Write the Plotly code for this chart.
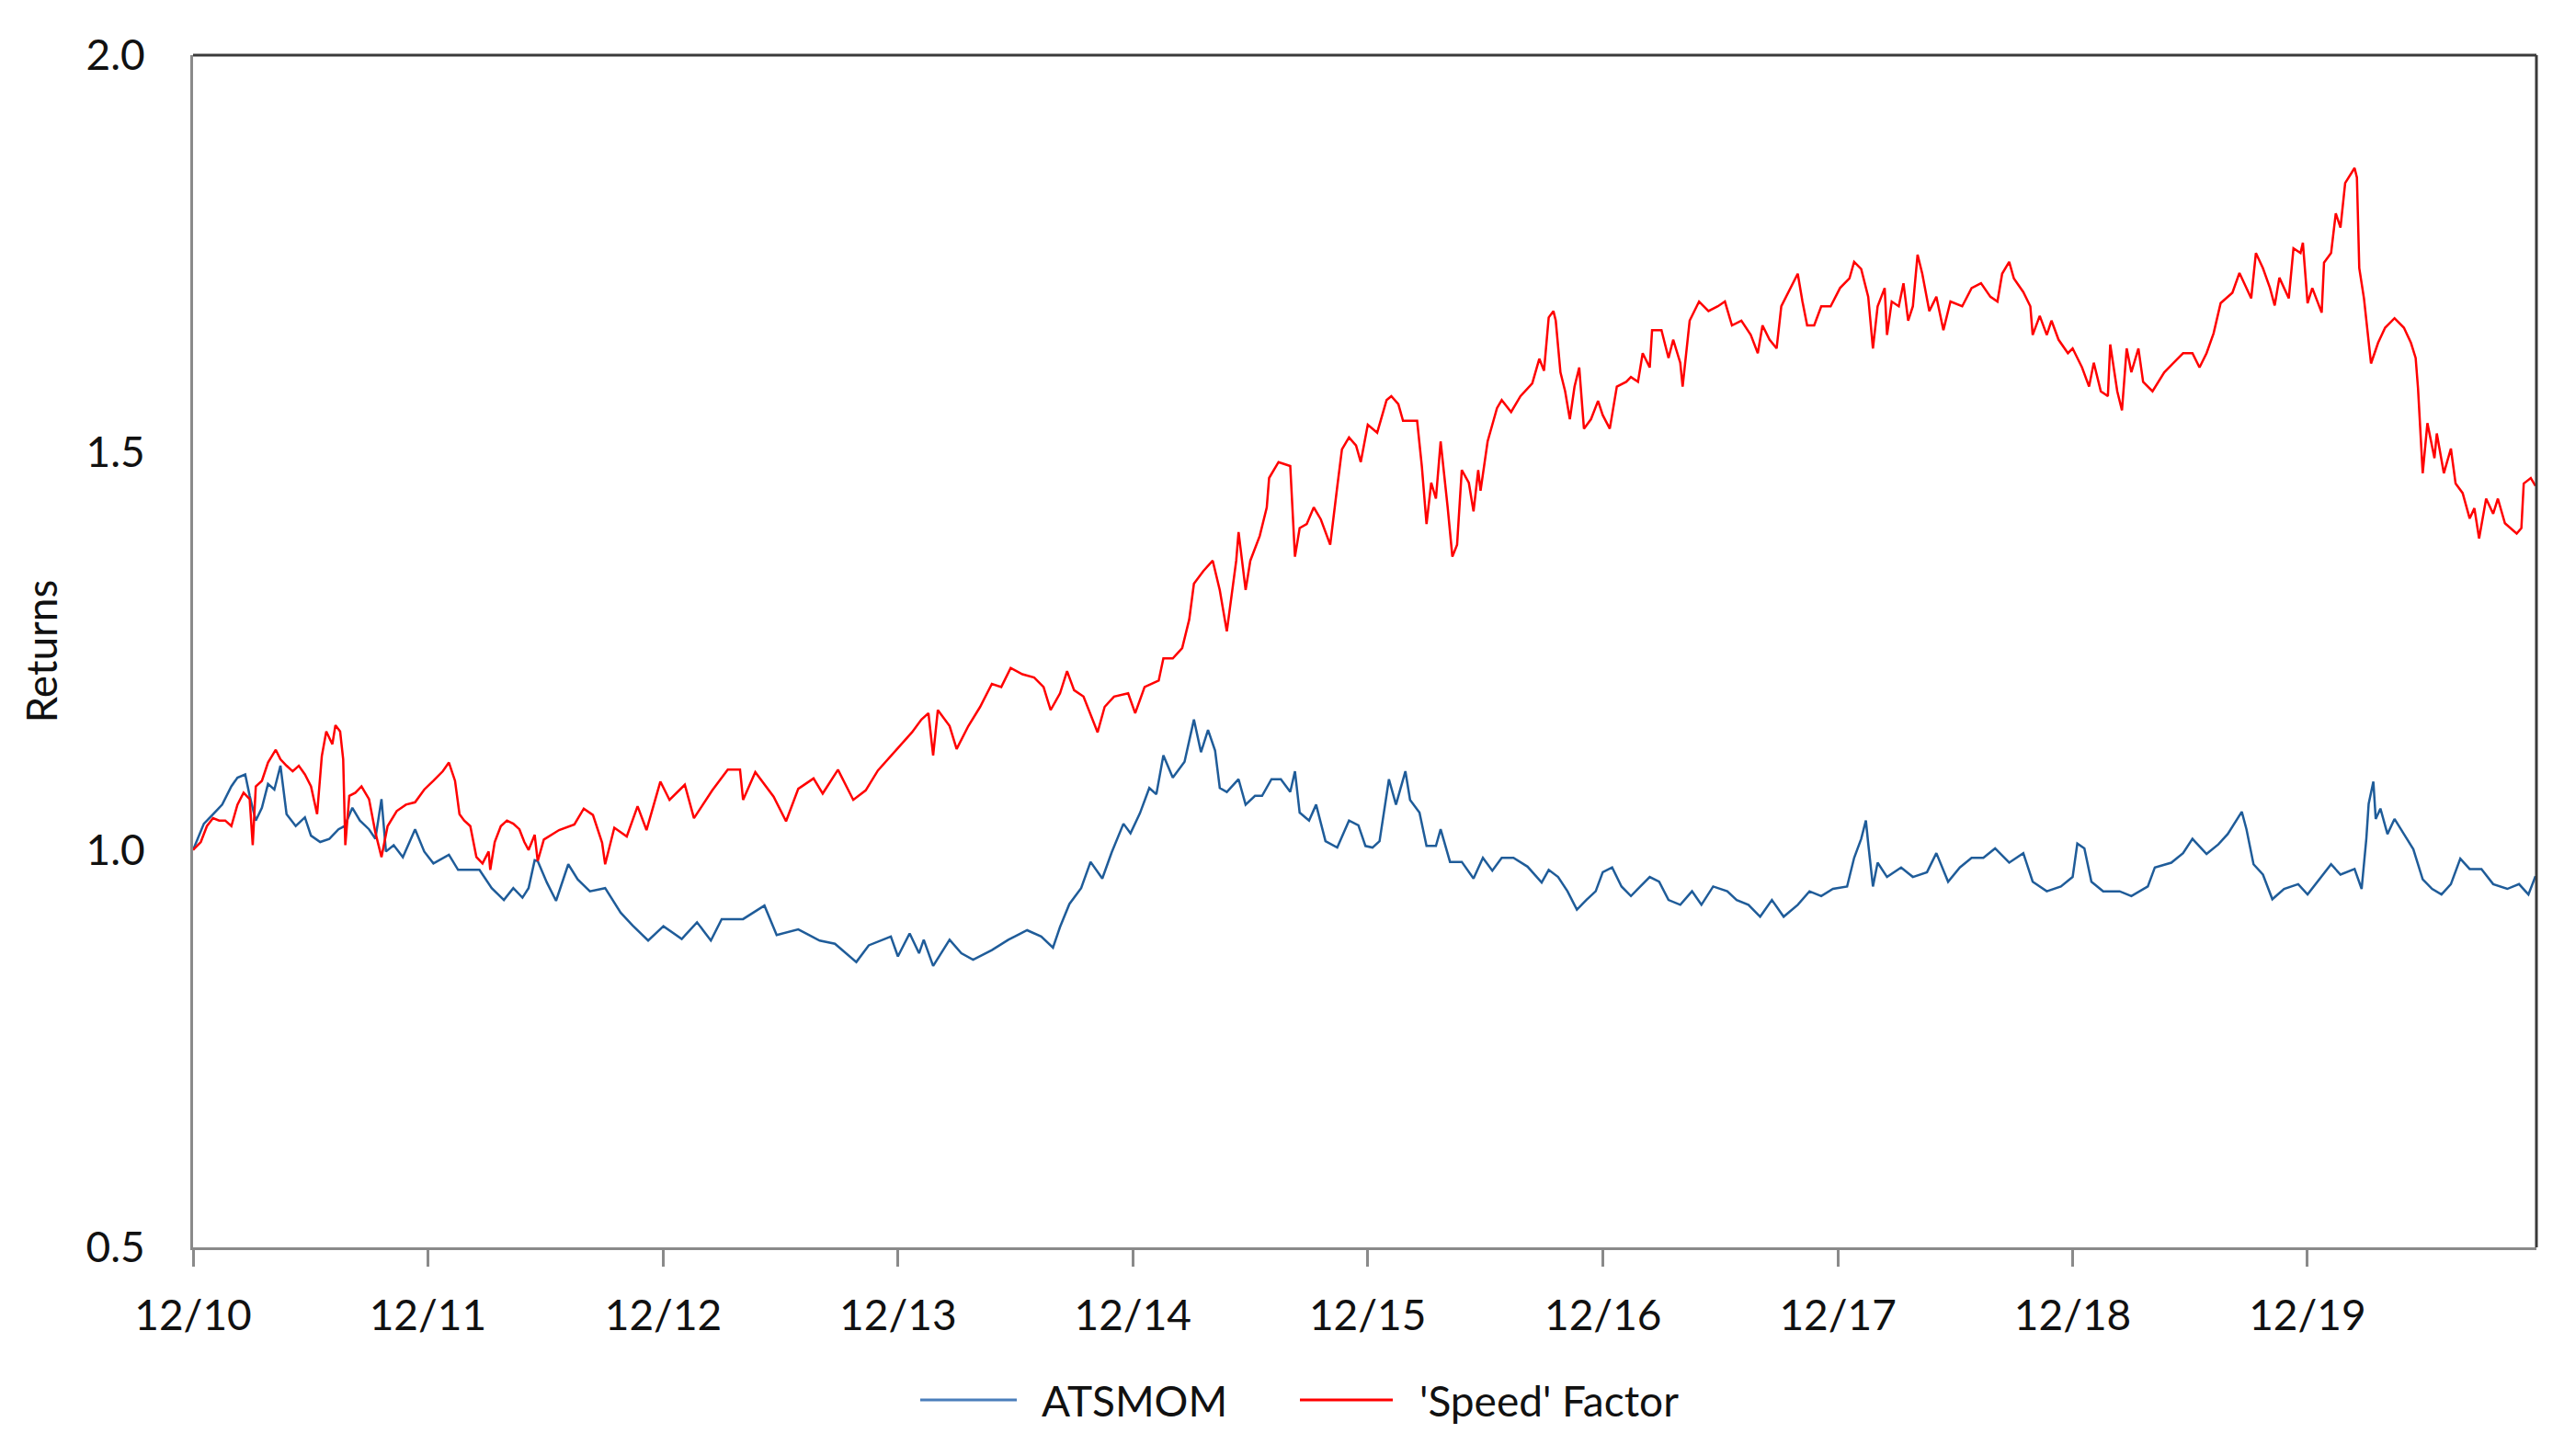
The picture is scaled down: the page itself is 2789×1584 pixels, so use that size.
import pandas as pd
import plotly.graph_objects as go

# ---- data (years since 12/2010) ----
speed_years = [0.0,0.033,0.059,0.085,0.111,0.137,0.163,0.189,0.215,0.241,0.254,0.267,0.293,0.319,0.352,0.372,0.398,0.424,0.45,0.476,0.502,0.528,0.548,0.567,0.593,0.606,0.626,0.639,0.648,0.665,0.691,0.717,0.749,0.776,0.802,0.828,0.867,0.906,0.945,0.984,1.023,1.063,1.089,1.115,1.134,1.154,1.18,1.206,1.232,1.258,1.265,1.284,1.31,1.336,1.363,1.389,1.41,1.428,1.454,1.467,1.493,1.558,1.623,1.663,1.702,1.741,1.754,1.793,1.846,1.892,1.93,1.989,2.028,2.093,2.132,2.21,2.276,2.328,2.341,2.393,2.471,2.524,2.576,2.641,2.68,2.745,2.81,2.863,2.915,2.96,3.01,3.06,3.1,3.13,3.15,3.17,3.22,3.25,3.3,3.35,3.4,3.44,3.48,3.53,3.58,3.62,3.65,3.69,3.72,3.75,3.79,3.85,3.88,3.92,3.98,4.01,4.05,4.11,4.13,4.17,4.21,4.24,4.26,4.3,4.34,4.37,4.4,4.44,4.45,4.48,4.5,4.54,4.57,4.58,4.62,4.67,4.69,4.71,4.74,4.77,4.8,4.84,4.87,4.89,4.92,4.95,4.97,5.0,5.04,5.08,5.1,5.13,5.15,5.21,5.23,5.25,5.27,5.29,5.31,5.32,5.34,5.36,5.38,5.4,5.43,5.45,5.47,5.48,5.51,5.55,5.57,5.61,5.65,5.7,5.73,5.75,5.77,5.79,5.8,5.82,5.84,5.86,5.88,5.9,5.92,5.95,5.98,6.0,6.03,6.06,6.1,6.12,6.15,6.17,6.2,6.21,6.25,6.28,6.3,6.33,6.34,6.37,6.41,6.45,6.49,6.52,6.55,6.59,6.63,6.66,6.68,6.71,6.74,6.76,6.8,6.83,6.85,6.87,6.9,6.93,6.97,7.01,7.05,7.07,7.1,7.13,7.15,7.17,7.2,7.21,7.23,7.26,7.28,7.3,7.32,7.34,7.36,7.39,7.42,7.45,7.48,7.53,7.57,7.61,7.65,7.68,7.7,7.73,7.75,7.79,7.82,7.83,7.86,7.89,7.91,7.94,7.98,8.0,8.04,8.07,8.09,8.12,8.15,8.16,8.19,8.21,8.23,8.25,8.28,8.3,8.34,8.39,8.43,8.47,8.51,8.54,8.57,8.6,8.63,8.68,8.71,8.74,8.76,8.78,8.81,8.84,8.86,8.88,8.9,8.92,8.94,8.97,8.98,9.0,9.02,9.06,9.07,9.1,9.12,9.14,9.16,9.2,9.21,9.22,9.24,9.26,9.27,9.3,9.33,9.37,9.41,9.44,9.46,9.47,9.49,9.51,9.54,9.55,9.58,9.61,9.63,9.66,9.69,9.71,9.73,9.76,9.79,9.81,9.84,9.89,9.91,9.92,9.95,9.97]
speed_vals = [1.0,1.01,1.03,1.04,1.037,1.037,1.03,1.057,1.072,1.064,1.006,1.08,1.087,1.11,1.126,1.114,1.106,1.099,1.106,1.095,1.08,1.045,1.118,1.149,1.133,1.157,1.149,1.114,1.006,1.068,1.072,1.08,1.064,1.022,0.991,1.03,1.049,1.057,1.06,1.076,1.087,1.099,1.11,1.087,1.045,1.037,1.03,0.991,0.983,0.998,0.975,1.01,1.03,1.037,1.033,1.026,1.01,1.0,1.019,0.986,1.013,1.025,1.032,1.052,1.044,1.009,0.982,1.028,1.017,1.055,1.025,1.086,1.063,1.082,1.04,1.075,1.101,1.101,1.063,1.098,1.067,1.036,1.077,1.09,1.071,1.101,1.063,1.075,1.1,1.115,1.131,1.148,1.164,1.172,1.119,1.176,1.156,1.127,1.156,1.18,1.209,1.205,1.229,1.221,1.217,1.205,1.176,1.197,1.225,1.201,1.193,1.148,1.18,1.193,1.197,1.172,1.205,1.213,1.241,1.241,1.254,1.29,1.335,1.351,1.364,1.327,1.275,1.364,1.4,1.327,1.364,1.395,1.431,1.468,1.488,1.483,1.369,1.405,1.41,1.431,1.416,1.384,1.457,1.504,1.519,1.509,1.488,1.535,1.525,1.566,1.571,1.561,1.54,1.54,1.483,1.41,1.462,1.442,1.514,1.488,1.431,1.369,1.384,1.478,1.462,1.426,1.478,1.452,1.514,1.556,1.566,1.551,1.571,1.587,1.618,1.603,1.67,1.678,1.666,1.601,1.577,1.542,1.583,1.607,1.53,1.542,1.565,1.547,1.53,1.583,1.589,1.595,1.589,1.625,1.607,1.654,1.654,1.619,1.642,1.613,1.583,1.666,1.69,1.678,1.684,1.69,1.66,1.666,1.648,1.625,1.66,1.642,1.631,1.684,1.707,1.725,1.69,1.66,1.66,1.684,1.684,1.707,1.719,1.74,1.731,1.696,1.631,1.684,1.707,1.648,1.69,1.684,1.713,1.666,1.684,1.749,1.725,1.678,1.696,1.654,1.69,1.684,1.707,1.713,1.696,1.69,1.725,1.74,1.719,1.702,1.684,1.648,1.672,1.648,1.666,1.642,1.625,1.631,1.607,1.583,1.613,1.577,1.571,1.636,1.577,1.553,1.631,1.601,1.631,1.589,1.577,1.601,1.613,1.625,1.625,1.607,1.625,1.65,1.688,1.701,1.726,1.707,1.694,1.751,1.732,1.707,1.685,1.72,1.707,1.694,1.757,1.751,1.764,1.688,1.707,1.676,1.739,1.751,1.801,1.783,1.839,1.858,1.846,1.732,1.694,1.644,1.612,1.638,1.657,1.669,1.657,1.638,1.619,1.581,1.474,1.537,1.493,1.524,1.474,1.505,1.461,1.449,1.417,1.43,1.392,1.442,1.423,1.442,1.411,1.398,1.405,1.461,1.468,1.458]

atsmom_years = [0.0,0.046,0.085,0.124,0.163,0.189,0.222,0.241,0.267,0.293,0.319,0.346,0.372,0.398,0.437,0.476,0.502,0.541,0.58,0.619,0.645,0.678,0.71,0.749,0.776,0.802,0.821,0.854,0.893,0.945,0.984,1.023,1.089,1.128,1.18,1.219,1.271,1.323,1.363,1.402,1.428,1.454,1.467,1.506,1.545,1.597,1.637,1.689,1.754,1.82,1.871,1.937,2.002,2.08,2.145,2.204,2.25,2.341,2.432,2.484,2.576,2.667,2.732,2.823,2.876,2.97,3.0,3.05,3.09,3.11,3.15,3.22,3.27,3.32,3.4,3.47,3.55,3.61,3.66,3.69,3.73,3.78,3.82,3.87,3.91,3.96,3.99,4.03,4.07,4.1,4.13,4.17,4.22,4.26,4.29,4.32,4.35,4.37,4.4,4.45,4.48,4.52,4.55,4.59,4.63,4.67,4.69,4.71,4.75,4.78,4.82,4.87,4.92,4.96,4.99,5.02,5.05,5.09,5.12,5.16,5.18,5.22,5.25,5.29,5.31,5.35,5.4,5.45,5.49,5.53,5.57,5.62,5.68,5.74,5.77,5.81,5.85,5.89,5.93,5.97,6.0,6.04,6.08,6.12,6.16,6.2,6.24,6.28,6.33,6.38,6.42,6.47,6.53,6.57,6.62,6.67,6.72,6.77,6.83,6.88,6.93,6.98,7.04,7.07,7.1,7.12,7.13,7.15,7.17,7.21,7.27,7.32,7.38,7.42,7.47,7.52,7.57,7.62,7.67,7.73,7.79,7.83,7.89,7.95,8.0,8.02,8.05,8.08,8.13,8.2,8.25,8.32,8.35,8.42,8.47,8.51,8.57,8.62,8.66,8.7,8.72,8.74,8.77,8.81,8.85,8.9,8.96,9.0,9.05,9.1,9.14,9.2,9.23,9.25,9.26,9.28,9.29,9.31,9.34,9.37,9.41,9.45,9.49,9.53,9.57,9.61,9.65,9.69,9.74,9.79,9.85,9.9,9.94,9.97]
atsmom_vals = [1.0,1.033,1.045,1.057,1.08,1.091,1.095,1.068,1.037,1.053,1.083,1.076,1.106,1.045,1.03,1.041,1.018,1.01,1.014,1.026,1.03,1.053,1.037,1.026,1.014,1.064,0.998,1.006,0.991,1.026,0.998,0.983,0.994,0.975,0.975,0.975,0.952,0.937,0.952,0.94,0.952,0.987,0.986,0.959,0.936,0.982,0.963,0.948,0.952,0.921,0.905,0.886,0.904,0.888,0.909,0.886,0.913,0.913,0.93,0.893,0.9,0.886,0.882,0.859,0.88,0.891,0.866,0.895,0.87,0.887,0.854,0.887,0.87,0.862,0.874,0.887,0.899,0.891,0.877,0.903,0.932,0.952,0.985,0.964,0.997,1.033,1.021,1.046,1.078,1.07,1.119,1.091,1.111,1.164,1.123,1.151,1.125,1.078,1.073,1.089,1.057,1.068,1.068,1.089,1.089,1.073,1.099,1.047,1.037,1.057,1.011,1.003,1.037,1.031,1.005,1.003,1.011,1.089,1.057,1.099,1.063,1.047,1.005,1.005,1.026,0.985,0.985,0.964,0.99,0.974,0.99,0.99,0.979,0.959,0.975,0.966,0.948,0.925,0.937,0.948,0.972,0.978,0.954,0.942,0.954,0.966,0.96,0.937,0.931,0.948,0.931,0.954,0.948,0.937,0.931,0.916,0.937,0.916,0.931,0.948,0.942,0.951,0.954,0.99,1.014,1.037,1.008,0.954,0.984,0.966,0.978,0.966,0.972,0.996,0.96,0.978,0.99,0.99,1.002,0.984,0.996,0.96,0.948,0.954,0.966,1.008,1.002,0.96,0.948,0.948,0.942,0.954,0.978,0.984,0.996,1.014,0.995,1.007,1.02,1.039,1.048,1.026,0.982,0.969,0.938,0.951,0.957,0.944,0.963,0.982,0.969,0.976,0.951,1.014,1.058,1.086,1.039,1.052,1.02,1.039,1.02,1.001,0.963,0.951,0.944,0.957,0.989,0.976,0.976,0.957,0.951,0.957,0.944,0.967]

series_names = ["ATSMOM", "'Speed' Factor"]
series_colors = ["#1F5C99", "#FF0000"]
y_ticks = [0.5, 1.0, 1.5, 2.0]

start = pd.Timestamp("2010-12-01")
def to_dates(years):
    return [start + pd.Timedelta(days=y * 365.25) for y in years]

fig = go.Figure()
fig.add_trace(go.Scatter(x=to_dates(atsmom_years), y=atsmom_vals, mode="lines",
                         name=series_names[0], line=dict(color=series_colors[0], width=2.5),
                         showlegend=False))
fig.add_trace(go.Scatter(x=to_dates(speed_years), y=speed_vals, mode="lines",
                         name=series_names[1], line=dict(color=series_colors[1], width=2.5),
                         showlegend=False))

FONT = "Lato, Carlito, Calibri, sans-serif"
# page body adds an 8px offset; figure sized so the plot area lands at x 210-2759, y 60-1357
W, H = 2781, 1576
L, R, T, B = 202, 30, 52, 227
OFF = 8
pw, ph = W - L - R, H - T - B

def px(x):
    return (x - OFF - L) / pw

def py(y):
    return (H - B - (y - OFF)) / ph

fig.update_layout(
    width=W, height=H,
    margin=dict(l=L, r=R, t=T, b=B),
    paper_bgcolor="white", plot_bgcolor="white",
    font=dict(family=FONT, size=46, color="#111111"),
    xaxis=dict(
        type="date",
        range=[start, start + pd.Timedelta(days=9.974 * 365.25)],
        tick0="2010-12-01", dtick="M12", tickformat="%m/%y",
        showgrid=False, zeroline=False,
        showline=True, linecolor="#8A8A8A", linewidth=3,
        ticks="outside", ticklen=18, tickwidth=3, tickcolor="#8A8A8A",
        ticklabelstandoff=14,
        tickfont=dict(family=FONT, size=46, color="#111111"),
    ),
    yaxis=dict(
        range=[0.5, 2.0], tickvals=y_ticks, tickformat=".1f",
        showgrid=False, zeroline=False,
        showline=True, linecolor="#8A8A8A", linewidth=3,
        ticks="", ticklabelstandoff=40,
        tickfont=dict(family=FONT, size=46, color="#111111"),
    ),
)

# top and right frame lines (darker than the axes)
fig.add_shape(type="line", xref="paper", yref="paper", x0=0, x1=1, y0=1, y1=1,
              line=dict(color="#3A3A3A", width=3))
fig.add_shape(type="line", xref="paper", yref="paper", x0=1, x1=1, y0=0, y1=1,
              line=dict(color="#3A3A3A", width=3))

# y-axis title
fig.add_annotation(text="Returns", xref="paper", yref="paper", x=px(44), y=0.5,
                   textangle=-90, showarrow=False, xanchor="center", yanchor="middle",
                   font=dict(family=FONT, size=46, color="#111111"))

# legend (drawn manually to match long legend lines)
leg_y = py(1523)
legend_items = [(1001, 1106, 1131), (1414, 1515, 1542)]
leg_colors = ["#4A7EBB", "#FF0000"]
for (x0, x1, xt), name, col in zip(legend_items, series_names, leg_colors):
    fig.add_shape(type="line", xref="paper", yref="paper", x0=px(x0), x1=px(x1),
                  y0=leg_y, y1=leg_y, line=dict(color=col, width=3))
    fig.add_annotation(text=name, xref="paper", yref="paper", x=px(xt), y=leg_y,
                       showarrow=False, xanchor="left", yanchor="middle",
                       font=dict(family=FONT, size=46, color="#111111"))

fig.write_html("out.html")
